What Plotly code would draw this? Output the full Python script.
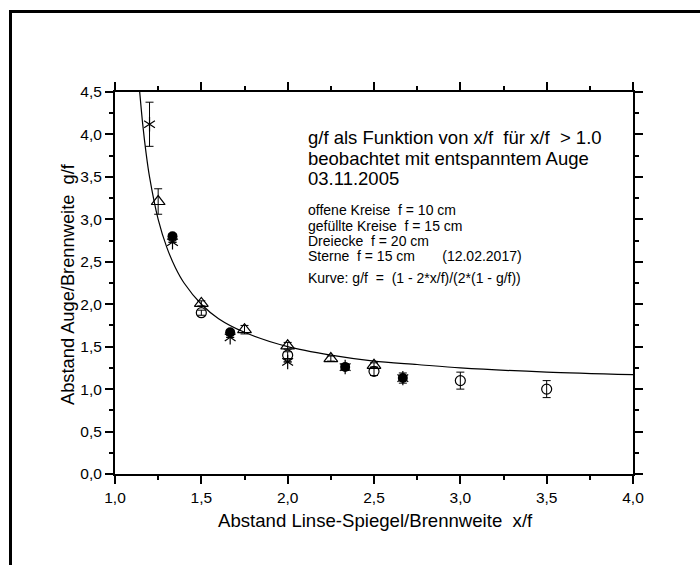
import plotly.graph_objects as go

# --- data ---
open_x = [1.5, 2.0, 2.5, 3.0, 3.5]
open_y = [1.90, 1.40, 1.21, 1.10, 1.00]
open_err = [0.03, 0.04, 0.05, 0.10, 0.10]

filled_x = [1.333, 1.667, 2.333, 2.667]
filled_y = [2.80, 1.67, 1.26, 1.13]
filled_err = [0.03, 0.03, 0.04, 0.06]

tri_x = [1.25, 1.5, 1.75, 2.0, 2.25, 2.5]
tri_y = [3.21, 2.01, 1.70, 1.51, 1.36, 1.28]
tri_err = [0.15, 0.03, 0.05, 0.04, 0.03, 0.03]

star_x = [1.2, 1.333, 1.667, 2.0, 2.333, 2.667]
star_y = [4.12, 2.73, 1.61, 1.32, 1.26, 1.13]
star_err = [0.26, 0.0, 0.0, 0.0, 0.0, 0.0]

curve_x = [1.14, 1.16, 1.18, 1.2, 1.25, 1.3, 1.35, 1.4, 1.5, 1.6, 1.75, 2.0, 2.25, 2.5, 2.75, 3.0, 3.5, 4.0]
curve_y = [4.57, 4.13, 3.78, 3.5, 3.0, 2.67, 2.43, 2.25, 2.0, 1.83, 1.67, 1.5, 1.4, 1.33, 1.29, 1.25, 1.2, 1.17]

x_range = [1.0, 4.0]
y_range = [0.0, 4.5]

S = "\u00a0"
title_lines = ["g/f als Funktion von x/f " + S + "für x/f " + S + "> 1.0",
               "beobachtet mit entspanntem Auge",
               "03.11.2005"]
info_lines = ["offene Kreise " + S + "f = 10 cm",
              "gefüllte Kreise " + S + "f = 15 cm",
              "Dreiecke " + S + "f = 20 cm",
              "Sterne " + S + "f = 15 cm " + S * 6 + "(12.02.2017)"]
curve_label = "Kurve: g/f " + S + "= " + S + "(1 - 2*x/f)/(2*(1 - g/f))"
x_title = "Abstand Linse-Spiegel/Brennweite " + S + "x/f"
y_title = "Abstand Auge/Brennweite " + S + "g/f"

FONT = "Liberation Sans, Arial, sans-serif"

W, H = 700, 565
L, R, T, B = 115, 633, 92, 474

def px(xs):
    return (xs - L) / (R - L)

def py(ys):
    return (B - ys) / (B - T)

fig = go.Figure()

fig.add_trace(go.Scatter(x=curve_x, y=curve_y, mode="lines",
                         line=dict(color="black", width=1.2, shape="spline", smoothing=0.8),
                         showlegend=False, hoverinfo="skip"))

def eb(arr):
    return dict(type="data", array=arr, visible=True, color="black", thickness=1, width=4)

fig.add_trace(go.Scatter(x=open_x, y=open_y, mode="markers",
                         marker=dict(symbol="circle-open", size=10, color="black", line=dict(width=1.2)),
                         error_y=eb(open_err), showlegend=False))
fig.add_trace(go.Scatter(x=filled_x, y=filled_y, mode="markers",
                         marker=dict(symbol="circle", size=10, color="black"),
                         error_y=eb(filled_err), showlegend=False))
fig.add_trace(go.Scatter(x=tri_x, y=tri_y, mode="markers",
                         marker=dict(symbol="triangle-up-open", size=12, color="black", line=dict(width=1.2)),
                         error_y=eb(tri_err), showlegend=False))
fig.add_trace(go.Scatter(x=star_x, y=star_y, mode="markers",
                         marker=dict(symbol="y-up-open", size=9, color="black", line=dict(width=1.2, color="black")),
                         error_y=eb(star_err), showlegend=False))
fig.add_trace(go.Scatter(x=star_x, y=star_y, mode="markers",
                         marker=dict(symbol="y-down-open", size=9, color="black", line=dict(width=1.2, color="black")),
                         showlegend=False))

axis_common = dict(showgrid=False, zeroline=False, showline=True, linecolor="black", linewidth=2,
                   mirror="allticks", ticks="outside", ticklen=8, tickwidth=1.5, tickcolor="black",
                   tickfont=dict(family=FONT, size=15.5, color="black"), tickformat=".1f",
                   minor=dict(ticks="outside", ticklen=4, tickwidth=1.5, tickcolor="black", dtick=0.25))

fig.update_xaxes(range=x_range, dtick=0.5, tick0=1.0, **axis_common)
fig.update_yaxes(range=y_range, dtick=0.5, tick0=0.0, **axis_common)

annotations = []
# outer page frame: a bordered empty annotation box whose right/bottom edges lie off the page
annotations.append(dict(text=S, x=px(8.5), y=py(9.5), xref="paper", yref="paper",
                        xanchor="left", yanchor="top", showarrow=False,
                        width=760, height=640, bordercolor="black", borderwidth=3, borderpad=0,
                        font=dict(family=FONT, size=10, color="black")))
big_y = [137, 158, 178.5]
for t, yy in zip(title_lines, big_y):
    annotations.append(dict(text=t, x=px(306), y=py(yy), xref="paper", yref="paper",
                            xanchor="left", yanchor="middle", showarrow=False,
                            font=dict(family=FONT, size=18.5, color="black")))
small_y = [210, 225.5, 240.5, 255.5]
for t, yy in zip(info_lines, small_y):
    annotations.append(dict(text=t, x=px(306), y=py(yy), xref="paper", yref="paper",
                            xanchor="left", yanchor="middle", showarrow=False,
                            font=dict(family=FONT, size=14, color="black")))
annotations.append(dict(text=curve_label, x=px(306), y=py(277.5), xref="paper", yref="paper",
                        xanchor="left", yanchor="middle", showarrow=False,
                        font=dict(family=FONT, size=14, color="black")))
annotations.append(dict(text=x_title, x=px(375), y=py(520), xref="paper", yref="paper",
                        xanchor="center", yanchor="middle", showarrow=False,
                        font=dict(family=FONT, size=18.6, color="black")))
annotations.append(dict(text=y_title, x=px(67), y=py(284), xref="paper", yref="paper",
                        xanchor="center", yanchor="middle", showarrow=False, textangle=-90,
                        font=dict(family=FONT, size=18.3, color="black")))

fig.update_layout(width=W, height=H, margin=dict(l=L, r=W - R, t=T, b=H - B),
                  paper_bgcolor="white", plot_bgcolor="white", separators=",.",
                  font=dict(family=FONT, color="black"),
                  annotations=annotations, showlegend=False)

fig.write_html("out.html", config={"displayModeBar": False},
               post_script="document.documentElement.style.overflow='hidden';document.body.style.margin='0';document.body.style.overflow='hidden';")
